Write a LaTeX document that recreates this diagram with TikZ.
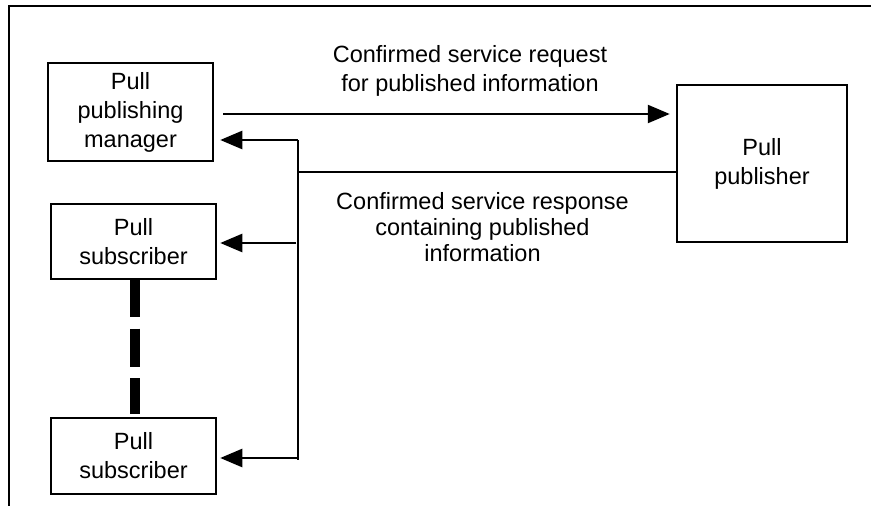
\documentclass[tikz,border=0pt]{standalone}
\usepackage{fontspec}
\setmainfont{Liberation Sans}
\usetikzlibrary{arrows.meta}
\begin{document}
\begin{tikzpicture}[x=1pt,y=-1pt,
  box/.style={draw, line width=2.5pt, inner sep=0pt, align=center,
    minimum width=165pt, font=\fontsize{23.5}{29}\selectfont},
  lbl/.style={align=center, inner sep=0pt, anchor=base},
  conn/.style={line width=2.5pt},
  arr/.style={line width=2.5pt, -{Triangle[length=22pt,width=18pt]}},
  frame/.style={line width=2pt}
]
\useasboundingbox (0,0) rectangle (871,506);
% frame
\coordinate (fr1) at (871,6);
\coordinate (fr2) at (9,6);
\coordinate (fr3) at (9,506);
\draw[frame] (fr1) -- (fr2) -- (fr3);

% nodes
\node[box, minimum height=98pt] (mgr) at (130.5,112) {Pull\\publishing\\manager};
\node[box, minimum height=75pt] (sub1) at (133.5,241.5) {Pull\\subscriber};
\node[box, minimum height=76pt] (sub2) at (133.5,456) {Pull\\subscriber};
\node[box, minimum width=170pt, minimum height=157pt] (pub) at (762,163.5) {Pull\\publisher};

% labels (base anchor = baseline of last line)
\node[lbl, font=\fontsize{23.5}{29}\selectfont] (reqlbl) at (470,91)
  {Confirmed service request\\for published information};
\node[lbl, font=\fontsize{23.5}{26}\selectfont] (reslbl) at (482.5,261)
  {Confirmed service response\\containing published\\information};

% bus coordinates
\coordinate (b1) at (298,140);
\coordinate (b2) at (298,172);
\coordinate (bs1) at (296,243);
\coordinate (b3) at (298,458);
\coordinate (b4) at (298,460);
\coordinate (rq) at (223,114);

% request
\draw[arr, shorten >=6pt] (rq) -- (pub.west |- rq);
% response
\draw[conn] (pub.west |- b2) -- (b2);
\draw[conn] (b1) -- (b4);
\draw[arr, shorten >=6pt] (b1) -- (mgr.east |- b1);
\draw[arr, shorten >=3pt] (bs1) -- (sub1.east |- bs1);
\draw[arr, shorten >=3pt] (b3) -- (sub2.east |- b3);

% dashed link between subscribers
\coordinate (d1) at (135,279);
\coordinate (d2) at (135,414);
\draw[line width=10pt, dash pattern=on 38pt off 11.5pt] (d1) -- (d2);
\end{tikzpicture}
\end{document}
